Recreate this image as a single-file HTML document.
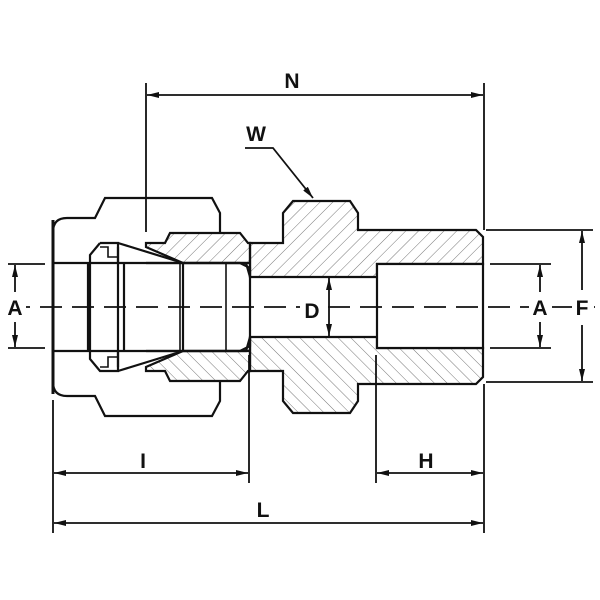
<!DOCTYPE html>
<html><head><meta charset="utf-8"><style>
html,body{margin:0;padding:0;background:#fff}
svg{display:block}
text{font-family:"Liberation Sans",Arial,sans-serif;font-weight:bold;font-size:21px;fill:#111;text-anchor:middle}
</style></head><body>
<svg width="600" height="600" viewBox="0 0 600 600" xmlns="http://www.w3.org/2000/svg">
<defs>
<pattern id="h1" patternUnits="userSpaceOnUse" width="9" height="9" patternTransform="rotate(45)">
<line x1="0" y1="0" x2="0" y2="9" stroke="#555" stroke-width="0.8"/></pattern>
<pattern id="h2" patternUnits="userSpaceOnUse" width="9" height="9" patternTransform="rotate(-45)">
<line x1="0" y1="0" x2="0" y2="9" stroke="#555" stroke-width="0.8"/></pattern>
<marker id="ar" markerWidth="12" markerHeight="6" refX="12" refY="3" orient="auto" markerUnits="userSpaceOnUse">
<path d="M0,0 L12,3 L0,6 Z" fill="#111"/></marker>
</defs>
<g stroke="#111" stroke-width="2.2" fill="none" stroke-linejoin="miter">
<path d="M250,243 L283,243 L283,213 L293,201 L350,201 L358,213 L358,230 L476,230 L483,237 L483,264 L377,264 L377,277 L250,277 Z" fill="url(#h1)"/>
<path d="M250,371 L283,371 L283,401 L293,413 L350,413 L358,401 L358,384 L476,384 L483,377 L483,348 L377,348 L377,337 L250,337 Z" fill="url(#h2)"/>
<path d="M146,243 L165,243 L170,233 L240,233 L248,243 L250,243 L250,277 L246,263 L183,263 L146,247 Z" fill="url(#h1)"/>
<path d="M146,371 L165,371 L170,381 L240,381 L248,371 L250,371 L250,337 L246,351 L183,351 L146,367 Z" fill="url(#h2)"/>
<rect x="377" y="264" width="106" height="84" fill="#fff"/>
<path d="M53,232 Q53,218 67,218 L95,218 L105,198 L212,198 L220,213 L220,232"/>
<path d="M53,382 Q53,396 67,396 L95,396 L105,416 L212,416 L220,401 L220,382"/>
<line x1="53" y1="220" x2="53" y2="394" stroke-width="3"/>
<line x1="53" y1="263" x2="250" y2="263"/>
<line x1="53" y1="351" x2="250" y2="351"/>
<path d="M146,263 L240,263 L250,268 L250,346 L240,351 L146,351"/>
<path d="M100,243 L118,243 L118,263 M100,243 L90,255 L90,359 L100,371 L118,371 L118,351"/>
<line x1="88" y1="263" x2="88" y2="351"/>
<path d="M100,247 L108,247 L108,257 L118,257 M100,367 L108,367 L108,357 L118,357" stroke-width="1.6"/>
<path d="M118,243 L183,263 L183,351 L118,371 M118,247 L118,367"/>
<line x1="124" y1="263" x2="124" y2="351"/>
<line x1="226" y1="263" x2="226" y2="351" stroke-width="1.6"/>
<line x1="180" y1="263" x2="180" y2="351" stroke-width="1.6"/>
</g>
<g stroke="#111" stroke-width="1.8" fill="none">
<line x1="8" y1="307" x2="595" y2="307" stroke-dasharray="22,10"/>
<line x1="146" y1="83" x2="146" y2="232"/>
<line x1="484" y1="83" x2="484" y2="230"/>
<line x1="484" y1="384" x2="484" y2="533"/>
<line x1="53" y1="400" x2="53" y2="533"/>
<line x1="249" y1="355" x2="249" y2="483"/>
<line x1="376" y1="355" x2="376" y2="483"/>
<line x1="486" y1="230" x2="593" y2="230"/>
<line x1="486" y1="382" x2="593" y2="382"/>
<line x1="490" y1="264" x2="551" y2="264"/>
<line x1="490" y1="348" x2="551" y2="348"/>
<line x1="8" y1="264" x2="45" y2="264"/>
<line x1="8" y1="348" x2="45" y2="348"/>
<line x1="230" y1="95" x2="147" y2="95" marker-end="url(#ar)"/>
<line x1="230" y1="95" x2="483" y2="95" marker-end="url(#ar)"/>
<line x1="140" y1="473" x2="54" y2="473" marker-end="url(#ar)"/>
<line x1="140" y1="473" x2="248" y2="473" marker-end="url(#ar)"/>
<line x1="430" y1="473" x2="377" y2="473" marker-end="url(#ar)"/>
<line x1="430" y1="473" x2="483" y2="473" marker-end="url(#ar)"/>
<line x1="260" y1="523" x2="54" y2="523" marker-end="url(#ar)"/>
<line x1="260" y1="523" x2="483" y2="523" marker-end="url(#ar)"/>
<line x1="582" y1="290" x2="582" y2="231" marker-end="url(#ar)"/>
<line x1="582" y1="325" x2="582" y2="381" marker-end="url(#ar)"/>
<line x1="540" y1="292" x2="540" y2="265" marker-end="url(#ar)"/>
<line x1="540" y1="322" x2="540" y2="347" marker-end="url(#ar)"/>
<line x1="15" y1="292" x2="15" y2="265" marker-end="url(#ar)"/>
<line x1="15" y1="322" x2="15" y2="347" marker-end="url(#ar)"/>
<line x1="329" y1="306" x2="329" y2="278" marker-end="url(#ar)"/>
<line x1="329" y1="306" x2="329" y2="336" marker-end="url(#ar)"/>
<polyline points="245,148 273,148 313,198" marker-end="url(#ar)"/>
</g>
<g font-family="Liberation Sans, Arial, sans-serif" font-weight="bold">
<rect x="4" y="294" width="22" height="26" fill="#fff"/>
<rect x="529" y="294" width="22" height="26" fill="#fff"/>
<rect x="300" y="294" width="24" height="26" fill="#fff"/>
<rect x="572" y="294" width="22" height="26" fill="#fff"/>
<text x="292" y="88">N</text>
<text x="256" y="141">W</text>
<text x="15" y="315">A</text>
<text x="540" y="315">A</text>
<text x="312" y="318">D</text>
<text x="582" y="315">F</text>
<text x="143" y="468">I</text>
<text x="426" y="468">H</text>
<text x="263" y="517">L</text>
</g>
</svg>
</body></html>
